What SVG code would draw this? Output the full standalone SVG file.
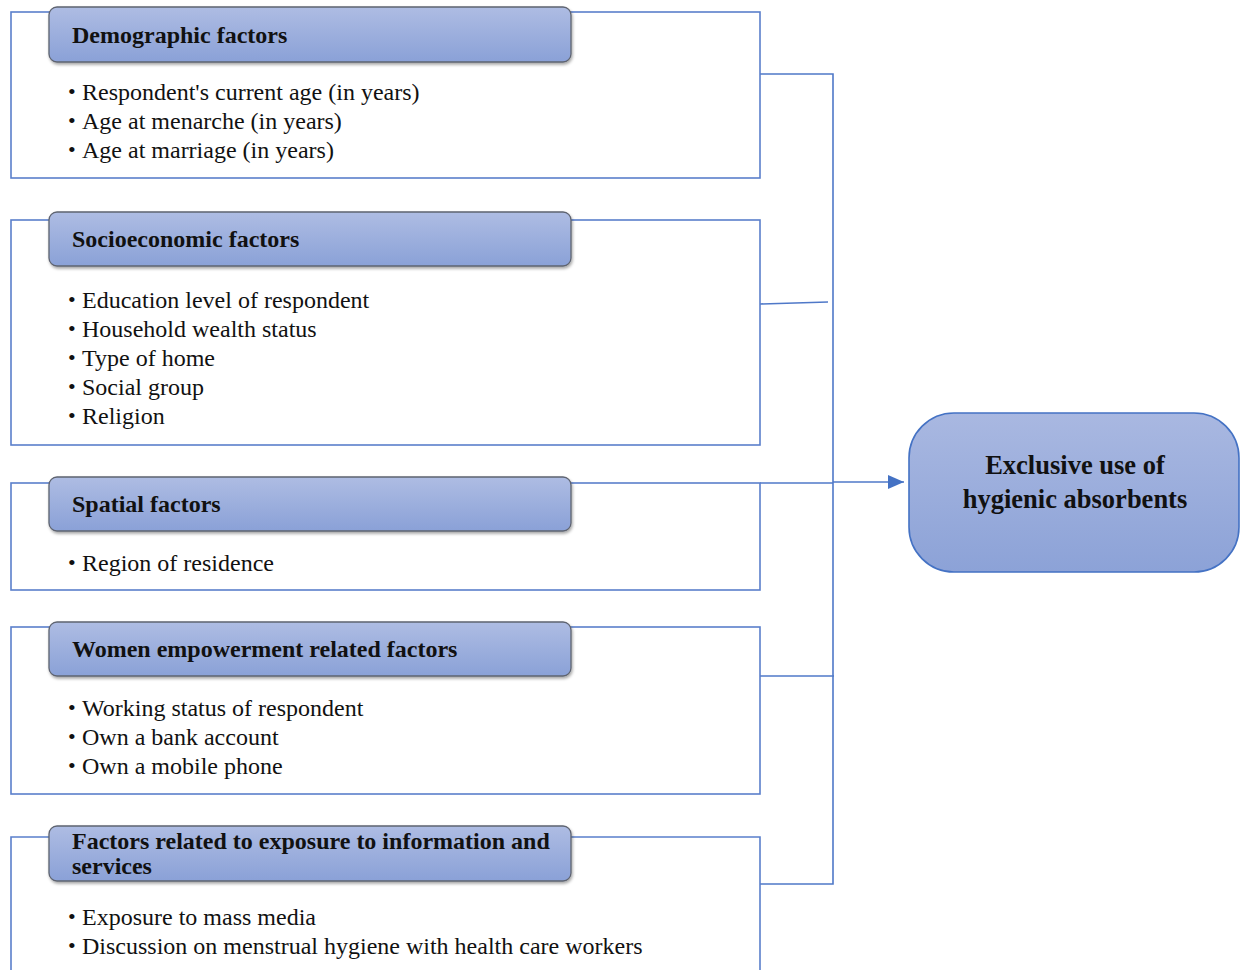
<svg xmlns="http://www.w3.org/2000/svg" width="1241" height="970" viewBox="0 0 1241 970">
<defs>
<linearGradient id="hg" x1="0" y1="0" x2="0" y2="1">
<stop offset="0" stop-color="#AEBCE3"/>
<stop offset="1" stop-color="#8AA1D7"/>
</linearGradient>
<linearGradient id="tg" x1="0" y1="0" x2="0" y2="1">
<stop offset="0" stop-color="#A9B8E1"/>
<stop offset="1" stop-color="#8CA2D7"/>
</linearGradient>
<filter id="sh" x="-5%" y="-20%" width="110%" height="150%">
<feDropShadow dx="1" dy="2" stdDeviation="1.5" flood-color="#000" flood-opacity="0.35"/>
</filter>
<marker id="arr" viewBox="0 0 16 14" refX="16" refY="7" markerWidth="16" markerHeight="14" orient="auto" markerUnits="userSpaceOnUse">
<path d="M0,0 L16,7 L0,14 z" fill="#4472C4"/>
</marker>
</defs>
<style>
.outer{fill:none;stroke:#5A7FCB;stroke-width:1.6}
.head{fill:url(#hg);stroke:#5E6470;stroke-width:1.3;filter:url(#sh)}
.ht{font-family:"Liberation Serif",serif;font-weight:bold;font-size:24px;fill:#111}
.it{font-family:"Liberation Serif",serif;font-size:24px;fill:#111}
.bu{font-family:"Liberation Serif",serif;font-size:22px;fill:#111}
.con{fill:none;stroke:#4F78C8;stroke-width:1.6}
.tt{font-family:"Liberation Serif",serif;font-weight:bold;font-size:26.5px;fill:#111}
</style>
<rect width="1241" height="970" fill="#fff"/>

<g id="connectors">
<polyline class="con" points="760,74 833,74 833,884 760,884"/>
<line class="con" x1="760" y1="304" x2="828" y2="302"/>
<line class="con" x1="760" y1="676" x2="834" y2="676"/>
<line class="con" x1="760" y1="483" x2="833" y2="483"/>
<line class="con" x1="833" y1="482" x2="904" y2="482" stroke-width="2.4" marker-end="url(#arr)"/>
</g>

<g id="demographic">
<rect class="outer" x="11" y="12" width="749" height="166"/>
<rect class="head" x="49" y="7" width="522" height="55" rx="8"/>
<text class="ht" x="72" y="43">Demographic factors</text>
<text class="bu" x="68" y="99">•</text><text class="it" x="82" y="100">Respondent's current age (in years)</text>
<text class="bu" x="68" y="128">•</text><text class="it" x="82" y="129">Age at menarche (in years)</text>
<text class="bu" x="68" y="157">•</text><text class="it" x="82" y="158">Age at marriage (in years)</text>
</g>

<g id="socioeconomic">
<rect class="outer" x="11" y="220" width="749" height="225"/>
<rect class="head" x="49" y="212" width="522" height="54" rx="8"/>
<text class="ht" x="72" y="247">Socioeconomic factors</text>
<text class="bu" x="68" y="307">•</text><text class="it" x="82" y="308">Education level of respondent</text>
<text class="bu" x="68" y="336">•</text><text class="it" x="82" y="337">Household wealth status</text>
<text class="bu" x="68" y="365">•</text><text class="it" x="82" y="366">Type of home</text>
<text class="bu" x="68" y="394">•</text><text class="it" x="82" y="395">Social group</text>
<text class="bu" x="68" y="423">•</text><text class="it" x="82" y="424">Religion</text>
</g>

<g id="spatial">
<rect class="outer" x="11" y="483" width="749" height="107"/>
<rect class="head" x="49" y="477" width="522" height="54" rx="8"/>
<text class="ht" x="72" y="512">Spatial factors</text>
<text class="bu" x="68" y="570">•</text><text class="it" x="82" y="571">Region of residence</text>
</g>

<g id="empowerment">
<rect class="outer" x="11" y="627" width="749" height="167"/>
<rect class="head" x="49" y="622" width="522" height="54" rx="8"/>
<text class="ht" x="72" y="657">Women empowerment related factors</text>
<text class="bu" x="68" y="715">•</text><text class="it" x="82" y="716">Working status of respondent</text>
<text class="bu" x="68" y="744">•</text><text class="it" x="82" y="745">Own a bank account</text>
<text class="bu" x="68" y="773">•</text><text class="it" x="82" y="774">Own a mobile phone</text>
</g>

<g id="exposure">
<path class="outer" d="M11,975 L11,837 L760,837 L760,975"/>
<rect class="head" x="49" y="826" width="522" height="55" rx="8"/>
<text class="ht" x="72" y="849">Factors related to exposure to information and</text>
<text class="ht" x="72" y="874">services</text>
<text class="bu" x="68" y="924">•</text><text class="it" x="82" y="925">Exposure to mass media</text>
<text class="bu" x="68" y="953">•</text><text class="it" x="82" y="954">Discussion on menstrual hygiene with health care workers</text>
</g>

<g id="outcome">
<rect x="909" y="413" width="330" height="159" rx="45" fill="url(#tg)" stroke="#4472C4" stroke-width="1.6"/>
<text class="tt" x="1075" y="474" text-anchor="middle">Exclusive use of</text>
<text class="tt" x="1075" y="508" text-anchor="middle">hygienic absorbents</text>
</g>
</svg>
